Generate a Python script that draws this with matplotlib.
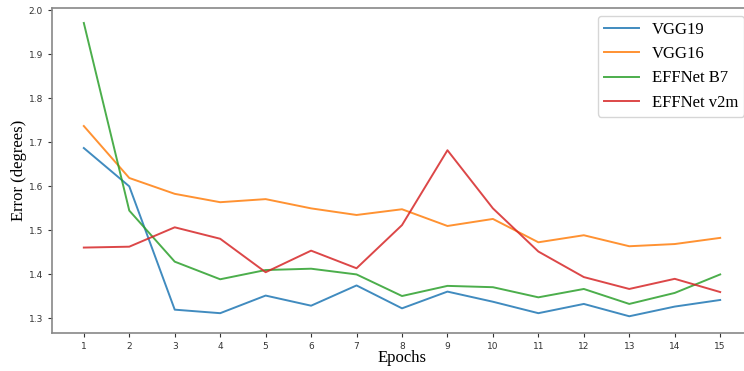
import matplotlib
matplotlib.use("Agg")
import matplotlib.pyplot as plt

epochs = list(range(1, 16))
vgg19 = [1.687, 1.600, 1.320, 1.312, 1.352, 1.329, 1.375, 1.323, 1.361, 1.338, 1.312, 1.333, 1.305, 1.327, 1.342]
vgg16 = [1.737, 1.619, 1.583, 1.564, 1.571, 1.550, 1.535, 1.548, 1.510, 1.526, 1.473, 1.489, 1.464, 1.469, 1.483]
effb7 = [1.971, 1.545, 1.429, 1.389, 1.410, 1.413, 1.400, 1.351, 1.374, 1.371, 1.348, 1.367, 1.333, 1.358, 1.400]
effv2m = [1.461, 1.463, 1.507, 1.481, 1.405, 1.454, 1.414, 1.512, 1.682, 1.550, 1.452, 1.394, 1.367, 1.390, 1.360]
labels = ["VGG19", "VGG16", "EFFNet B7", "EFFNet v2m"]
yticks = [1.3, 1.4, 1.5, 1.6, 1.7, 1.8, 1.9, 2.0]

fig = plt.figure(figsize=(7.44, 3.71), dpi=100)
ax = fig.add_axes([52/744, 1 - 333/371, (752-52)/744, (333-8)/371])
for s, lab in zip([vgg19, vgg16, effb7, effv2m], labels):
    ax.plot(epochs, s, lw=1.4, label=lab, alpha=0.85)
ax.set_xlim(0.3, 15.7)
ax.set_ylim(1.267, 2.005)
ax.set_xticks(epochs)
ax.set_yticks(yticks)
ax.set_yticklabels([f"{v:.1f}" for v in yticks])
ax.tick_params(labelsize=6.5, colors="#333333", length=3)
for sp in ax.spines.values():
    sp.set_color("#888888")
    sp.set_linewidth(1.2)
ax.set_xlabel("Epochs", fontsize=12, family="Liberation Serif", labelpad=-0.5)
ax.set_ylabel("Error (degrees)", fontsize=12, family="Liberation Serif", labelpad=1.5)
leg = ax.legend(loc="upper left", bbox_to_anchor=((598-52)/700, 1 - (16-8)/325),
                prop={"family": "Liberation Serif", "size": 12},
                handlelength=2.1, labelspacing=0.5, borderpad=0.35, handletextpad=0.8,
                borderaxespad=0.0, frameon=True)
fig.savefig("out.png", dpi=100)
